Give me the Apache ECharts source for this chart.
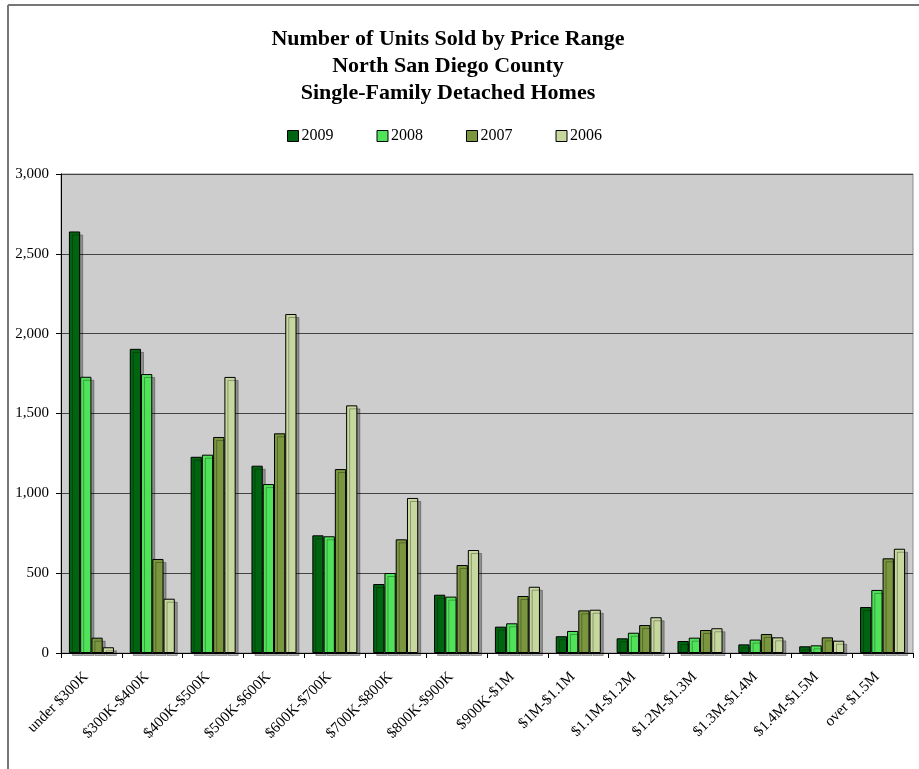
<!DOCTYPE html>
<html>
<head>
<meta charset="utf-8">
<script src="https://cdn.jsdelivr.net/npm/echarts@6/dist/echarts.min.js"></script>
<style>
  html, body { margin: 0; padding: 0; background: #fff; }
  #chart { width: 919px; height: 769px; }
</style>
</head>
<body>
<div id="chart"></div>
<script>
var priceRanges = [
  "under $300K", "$300K-$400K", "$400K-$500K", "$500K-$600K", "$600K-$700K",
  "$700K-$800K", "$800K-$900K", "$900K-$1M", "$1M-$1.1M", "$1.1M-$1.2M",
  "$1.2M-$1.3M", "$1.3M-$1.4M", "$1.4M-$1.5M", "over $1.5M"
];
var sold2009 = [2640, 1905, 1229, 1173, 737, 432, 365, 165, 105, 92, 75, 54, 42, 288];
var sold2008 = [1730, 1747, 1242, 1058, 731, 501, 353, 186, 138, 127, 96, 84, 48, 395];
var sold2007 = [96, 589, 1353, 1376, 1152, 712, 551, 357, 267, 175, 144, 119, 98, 593];
var sold2006 = [36, 340, 1729, 2123, 1551, 971, 645, 415, 271, 224, 155, 98, 77, 653];
var yearNames = ["2009", "2008", "2007", "2006"];
var yearColors = ["#006411", "#50E35A", "#7A963E", "#C6D89E"];

var myChart = echarts.init(document.getElementById("chart"));
var serif = "'Liberation Serif', 'DejaVu Serif', serif";

// one bar series per year, same look for all
function yearSeries(i, values) {
  return {
    name: yearNames[i],
    type: "bar",
    data: values,
    barGap: "0%",
    barCategoryGap: "26%",
    itemStyle: {
      color: yearColors[i],
      borderColor: "#000",
      borderWidth: 1,
      shadowColor: "rgba(0,0,0,0.3)",
      shadowBlur: 0,
      shadowOffsetX: 3,
      shadowOffsetY: 3
    }
  };
}

var option = {
  backgroundColor: "#fff",
  animation: false,
  title: {
    text: "Number of Units Sold by Price Range\nNorth San Diego County\nSingle-Family Detached Homes",
    left: 443,
    textAlign: "center",
    top: 21,
    textStyle: {
      fontFamily: serif,
      fontWeight: "bold",
      fontSize: 22,
      lineHeight: 27,
      color: "#000"
    }
  },
  legend: {
    top: 123,
    left: 282,
    itemWidth: 11,
    itemHeight: 11,
    itemGap: 43,
    icon: "rect",
    textStyle: { fontFamily: serif, fontSize: 16, color: "#000", padding: [0, 0, 0, -2] },
    data: yearNames.map(function (n, i) {
      return { name: n, itemStyle: { color: yearColors[i], borderColor: "#000", borderWidth: 1, shadowBlur: 0, shadowOffsetX: 0, shadowOffsetY: 0 } };
    })
  },
  grid: {
    left: 61,
    right: 6,
    top: 174,
    bottom: 116,
    show: true,
    backgroundColor: "#CDCDCD",
    borderColor: "#8a8a8a",
    borderWidth: 1
  },
  xAxis: {
    type: "category",
    data: priceRanges,
    boundaryGap: true,
    axisLine: { lineStyle: { color: "#000", width: 1 } },
    axisTick: { show: true, length: 5, alignWithLabel: false, lineStyle: { color: "#000" } },
    axisLabel: {
      interval: 0,
      rotate: 45,
      fontFamily: serif,
      fontSize: 15,
      color: "#000",
      margin: 16,
      padding: [0, 8, 0, 0]
    }
  },
  yAxis: {
    type: "value",
    min: 0,
    max: 3000,
    interval: 500,
    axisLine: { show: true, lineStyle: { color: "#000", width: 1 } },
    axisTick: { show: true, length: 5, lineStyle: { color: "#000" } },
    splitLine: { show: true, lineStyle: { color: "#444", width: 1 } },
    axisLabel: {
      fontFamily: serif,
      fontSize: 15,
      color: "#000",
      margin: 12,
      formatter: function (v) { return v.toLocaleString("en-US"); }
    }
  },
  graphic: [
    { type: "line", shape: { x1: 8, y1: 5, x2: 919, y2: 5 }, style: { stroke: "#777", lineWidth: 2 } },
    { type: "line", shape: { x1: 8, y1: 5, x2: 8, y2: 769 }, style: { stroke: "#777", lineWidth: 2 } }
  ],
  series: [
    yearSeries(0, sold2009),
    yearSeries(1, sold2008),
    yearSeries(2, sold2007),
    yearSeries(3, sold2006)
  ]
};

myChart.setOption(option);
</script>
</body>
</html>
